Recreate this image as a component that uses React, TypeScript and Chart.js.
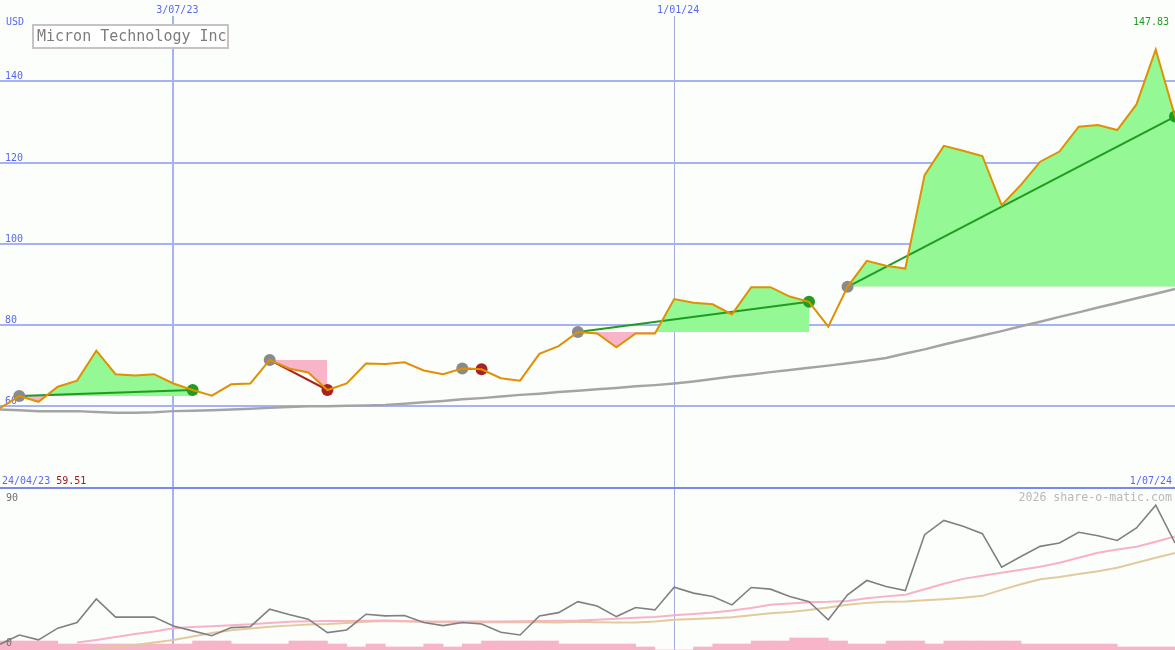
import React, { useEffect, useRef } from 'react';
import { Chart, registerables } from 'chart.js';

Chart.register(...registerables);

// ---------- data ----------
const TITLE = 'Micron Technology Inc';
const CURRENCY = 'USD';
const WATERMARK = '2026 share-o-matic.com';
const START_LABEL = '24/04/23';
const END_LABEL = '1/07/24';
const DATE_TICK_INDEX = [9, 35];
const DATE_TICK_LABELS = ['3/07/23', '1/01/24'];
const PRICE_TICKS = [60, 80, 100, 120, 140];
const LOWER_TICKS = [0, 90];

// weekly closes
const price = [
  59.51, 62.5, 61.1, 64.8, 66.3, 73.7, 67.9, 67.6, 67.9, 65.6,
  64.0, 62.6, 65.4, 65.6, 71.4, 69.3, 68.3, 64.0, 65.6, 70.5,
  70.4, 70.8, 68.8, 67.9, 69.3, 69.1, 66.9, 66.3, 72.9, 74.8,
  78.3, 77.9, 74.5, 77.9, 77.9, 86.4, 85.5, 85.1, 82.6, 89.3,
  89.3, 87.0, 85.7, 79.6, 89.4, 95.8, 94.6, 93.9, 116.9, 124.1,
  122.9, 121.6, 109.5, 114.5, 120.2, 122.7, 128.8, 129.2, 128.0, 134.3,
  147.83, 131.3,
];

// long moving average of price
const priceMA = [
  59.2, 59.0, 58.8, 58.8, 58.8, 58.6, 58.4, 58.4, 58.5, 58.8,
  58.9, 59.0, 59.2, 59.4, 59.6, 59.8, 60.0, 60.0, 60.1, 60.2,
  60.3, 60.6, 61.0, 61.3, 61.7, 62.0, 62.4, 62.8, 63.1, 63.5,
  63.8, 64.2, 64.5, 64.9, 65.2, 65.6, 66.1, 66.7, 67.3, 67.8,
  68.4, 68.9, 69.5, 70.0, 70.6, 71.2, 71.9, 73.0, 74.0, 75.2,
  76.3, 77.4, 78.5, 79.7, 80.8, 82.0, 83.1, 84.3, 85.4, 86.6,
  87.7, 88.9,
];

// lower panel indicator (0..90)
const lowerGray = [
  3.2, 8.3, 5.6, 12.1, 15.2, 28.3, 18.2, 18.2, 18.2, 13.3,
  10.6, 7.9, 12.4, 12.9, 22.6, 19.7, 17.1, 9.6, 11.1, 19.8,
  18.9, 19.1, 15.2, 13.5, 15.2, 14.4, 9.8, 8.3, 18.9, 20.7,
  26.8, 24.4, 18.5, 23.5, 22.2, 34.8, 31.5, 29.6, 25.0, 34.6,
  33.7, 29.6, 26.8, 16.7, 30.6, 38.5, 35.2, 32.9, 63.9, 71.8,
  68.5, 64.4, 45.9, 51.8, 57.4, 59.3, 65.2, 63.3, 60.7, 67.6,
  80.2, 59.3,
];

const lowerPink = [
  null, null, null, null, 4.2, 5.6, 7.2, 8.9, 10.3, 12.0,
  12.8, 13.2, 13.7, 14.2, 15.0, 15.6, 15.9, 16.1, 16.1, 16.2,
  16.3, 16.1, 15.8, 15.8, 15.8, 15.8, 15.8, 15.9, 16.1, 16.2,
  16.3, 16.7, 17.3, 17.9, 18.3, 19.2, 20.0, 20.8, 21.9, 23.3,
  25.0, 25.8, 26.5, 26.7, 27.2, 28.6, 29.7, 30.6, 33.6, 36.7,
  39.4, 41.1, 42.8, 44.4, 46.1, 48.3, 51.1, 53.9, 55.6, 57.2,
  60.0, 62.9,
];

const lowerTan = [
  null, null, null, null, null, 0.6, 1.7, 2.8, 4.2, 5.6,
  7.5, 9.4, 10.9, 11.9, 12.9, 13.5, 14.1, 14.4, 15.0, 15.6,
  16.1, 15.8, 15.6, 15.4, 15.4, 15.4, 15.4, 15.4, 15.4, 15.3,
  15.6, 15.4, 15.2, 15.2, 15.8, 16.7, 17.2, 17.6, 18.2, 19.2,
  20.3, 21.1, 22.2, 23.6, 25.0, 26.1, 26.7, 26.9, 27.5, 28.1,
  28.9, 30.0, 33.3, 36.4, 39.2, 40.4, 42.1, 43.6, 45.6, 48.3,
  51.1, 53.7,
];

// weekly volume level
const volume = [
  3, 3, 3, 2, 2, 2, 2, 2, 2, 2,
  3, 3, 2, 2, 2, 3, 3, 2, 1, 2,
  1, 1, 2, 1, 2, 3, 3, 3, 3, 2,
  2, 2, 2, 1, 0, 0, 1, 2, 2, 3,
  3, 4, 4, 3, 2, 2, 3, 3, 2, 3,
  3, 3, 3, 2, 2, 2, 2, 2, 1, 1,
  1, 0,
];

// trades: buy index -> sell index
const tradeBuy = [1, 14, 24, 30, 44];
const tradeSell = [10, 17, 25, 42, 61];

// ---------- styles ----------
const BG = '#fcfefc';
const GRID = '#a6b2f2';
const SEP = '#7a88ea';
const BLUE_TEXT = '#5868f0';
const ORANGE = '#e09000';
const MA_GRAY = '#a4a4a4';
const GAIN_FILL = '#94f894';
const LOSS_FILL = '#f8b4c8';
const GAIN_LINE = '#209c20';
const LOSS_LINE = '#a82222';
const BUY_DOT = '#8a8a8a';
const MONO = '"DejaVu Sans Mono", "Liberation Mono", monospace';

const LAST = price.length - 1;
const PANEL_SPLIT = 40; // price value at the border between panels

const pts = (arr: (number | null)[]) => arr.map((v, i) => ({ x: i, y: v }));

const overlay = {
  id: 'overlay',
  beforeDraw(chart: any) {
    const { ctx, width, height } = chart;
    ctx.save();
    ctx.fillStyle = BG;
    ctx.fillRect(0, 0, width, height);
    ctx.restore();
  },
  beforeDatasetsDraw(chart: any) {
    const { ctx, width, height } = chart;
    const { x, y } = chart.scales;
    ctx.save();
    // horizontal price grid
    ctx.strokeStyle = GRID;
    ctx.lineWidth = 2;
    PRICE_TICKS.forEach((v) => {
      const py = Math.round(y.getPixelForValue(v));
      ctx.beginPath();
      ctx.moveTo(0, py);
      ctx.lineTo(width, py);
      ctx.stroke();
    });
    // vertical date lines
    DATE_TICK_INDEX.forEach((idx, k) => {
      const px = x.getPixelForValue(idx);
      ctx.lineWidth = k === 0 ? 2 : 1;
      ctx.strokeStyle = k === 0 ? GRID : '#a4acdc';
      const xx = k === 0 ? Math.round(px) : Math.round(px) + 0.5;
      ctx.beginPath();
      ctx.moveTo(xx, 16);
      ctx.lineTo(xx, height);
      ctx.stroke();
    });
    // panel separator
    const sy = Math.round(y.getPixelForValue(PANEL_SPLIT));
    ctx.strokeStyle = SEP;
    ctx.lineWidth = 2;
    ctx.beginPath();
    ctx.moveTo(0, sy);
    ctx.lineTo(width, sy);
    ctx.stroke();

    // price tick labels
    ctx.font = `10px ${MONO}`;
    ctx.fillStyle = BLUE_TEXT;
    ctx.textBaseline = 'alphabetic';
    ctx.textAlign = 'left';
    PRICE_TICKS.forEach((v) => {
      const py = Math.round(y.getPixelForValue(v));
      ctx.fillText(String(v), 5, py - 2);
    });
    ctx.fillText(CURRENCY, 6, 25);
    // date labels at top
    ctx.textAlign = 'center';
    DATE_TICK_INDEX.forEach((idx, k) => {
      const px = x.getPixelForValue(idx);
      ctx.fillText(DATE_TICK_LABELS[k], px + 4, 13);
    });
    ctx.restore();
  },
  afterDatasetsDraw(chart: any) {
    const { ctx, width, height } = chart;
    const { y } = chart.scales;
    const y2 = chart.scales.y2;
    ctx.save();
    // title box
    ctx.fillStyle = '#ffffff';
    ctx.fillRect(33, 25, 195, 23);
    ctx.strokeStyle = '#c6c2c6';
    ctx.lineWidth = 2;
    ctx.strokeRect(33, 25, 195, 23);
    ctx.font = `15px ${MONO}`;
    ctx.fillStyle = '#7c7c7c';
    ctx.textAlign = 'left';
    ctx.textBaseline = 'alphabetic';
    ctx.fillText(TITLE, 37, 41);

    // max / min labels
    const maxV = Math.max(...price);
    const minV = Math.min(...price);
    ctx.font = `10px ${MONO}`;
    ctx.textAlign = 'right';
    ctx.fillStyle = '#229a22';
    ctx.fillText(maxV.toFixed(2), width - 6, 25);

    const sy = Math.round(y.getPixelForValue(PANEL_SPLIT));
    ctx.textAlign = 'left';
    ctx.fillStyle = BLUE_TEXT;
    ctx.fillText(START_LABEL, 2, sy - 4);
    const w = ctx.measureText(START_LABEL + ' ').width;
    ctx.fillStyle = '#a01818';
    ctx.fillText(minV.toFixed(2), 2 + w, sy - 4);
    ctx.textAlign = 'right';
    ctx.fillStyle = BLUE_TEXT;
    ctx.fillText(END_LABEL, width - 3, sy - 4);

    // lower panel labels
    ctx.textAlign = 'left';
    ctx.fillStyle = '#707070';
    ctx.fillText(String(LOWER_TICKS[1]), 6, Math.round(y2.getPixelForValue(LOWER_TICKS[1])) + 13);
    ctx.fillText(String(LOWER_TICKS[0]), 6, height - 4);

    ctx.font = `11.6px ${MONO}`;
    ctx.textAlign = 'right';
    ctx.fillStyle = '#b8b8b8';
    ctx.fillText(WATERMARK, width - 3, Math.round(y2.getPixelForValue(LOWER_TICKS[1])) + 13);
    ctx.restore();
  },
};

function buildDatasets() {
  const ds: any[] = [];
  // volume bars (lowest layer)
  ds.push({
    type: 'bar',
    data: volume.map((v, i) => ({ x: i + 0.5, y: v })),
    yAxisID: 'yv',
    backgroundColor: '#f8b4c8',
    borderWidth: 0,
    barPercentage: 1,
    categoryPercentage: 1,
    order: 20,
  });
  ds.push({ data: pts(lowerTan), yAxisID: 'y2', borderColor: '#e2ca9c', borderWidth: 2, order: 19 });
  ds.push({ data: pts(lowerPink), yAxisID: 'y2', borderColor: '#f8b2c8', borderWidth: 2, order: 18 });
  ds.push({ data: pts(lowerGray), yAxisID: 'y2', borderColor: '#808080', borderWidth: 1.6, order: 17 });

  // trade fills
  tradeBuy.forEach((b, k) => {
    const s = tradeSell[k];
    const seg = [];
    for (let i = b; i <= s; i++) seg.push({ x: i, y: price[i] });
    ds.push({
      data: seg,
      yAxisID: 'y',
      borderWidth: 0,
      borderColor: 'rgba(0,0,0,0)',
      fill: { target: { value: price[b] }, above: GAIN_FILL, below: LOSS_FILL },
      order: 15,
    });
  });

  ds.push({ data: pts(priceMA), yAxisID: 'y', borderColor: MA_GRAY, borderWidth: 2.5, order: 12 });

  // trade lines and dots
  tradeBuy.forEach((b, k) => {
    const s = tradeSell[k];
    const gain = price[s] >= price[b];
    const c = gain ? GAIN_LINE : LOSS_LINE;
    ds.push({
      data: [{ x: b, y: price[b] }, { x: s, y: price[s] }],
      yAxisID: 'y',
      borderColor: c,
      borderWidth: 2,
      pointRadius: 6,
      pointBorderWidth: 0,
      pointBackgroundColor: [BUY_DOT, c],
      order: 8,
    });
  });

  ds.push({ data: pts(price), yAxisID: 'y', borderColor: ORANGE, borderWidth: 2, order: 5 });
  return ds;
}

export default function App() {
  const ref = useRef<HTMLCanvasElement | null>(null);
  useEffect(() => {
    if (!ref.current) return;
    const chart = new Chart(ref.current, {
      type: 'line',
      data: { datasets: buildDatasets() },
      options: {
        animation: false,
        responsive: false,
        maintainAspectRatio: false,
        layout: { padding: 0, autoPadding: false },
        events: [],
        plugins: {
          legend: { display: false },
          tooltip: { enabled: false },
          title: { display: false },
        },
        elements: {
          point: { radius: 0, hoverRadius: 0 },
          line: { tension: 0, fill: false },
        },
        scales: {
          x: { type: 'linear', min: 0, max: LAST, display: false, offset: false, grid: { offset: false } },
          y: { type: 'linear', min: 0, max: 160, display: false },
          y2: { type: 'linear', min: 0, max: 360, display: false },
          yv: { type: 'linear', min: 0, max: 650 / 3, display: false },
        },
      } as any,
      plugins: [overlay],
    });
    return () => chart.destroy();
  }, []);
  return (
    <div style={{ position: 'fixed', left: 0, top: 0, width: 1175, height: 650, background: BG }}>
      <canvas ref={ref} width={1175} height={650} style={{ display: 'block', width: 1175, height: 650 }} />
    </div>
  );
}
